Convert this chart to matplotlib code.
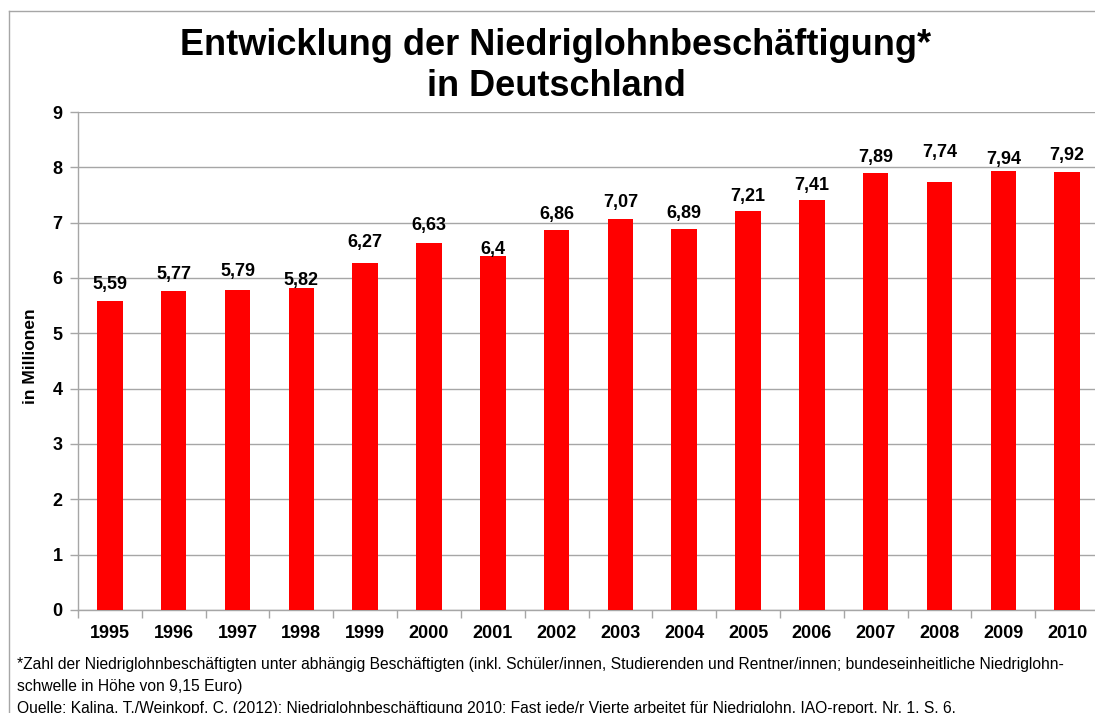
import matplotlib
matplotlib.use("Agg")
import matplotlib.pyplot as plt
from matplotlib.lines import Line2D

years = ["1995", "1996", "1997", "1998", "1999", "2000", "2001", "2002",
         "2003", "2004", "2005", "2006", "2007", "2008", "2009", "2010"]
values = [5.59, 5.77, 5.79, 5.82, 6.27, 6.63, 6.4, 6.86,
          7.07, 6.89, 7.21, 7.41, 7.89, 7.74, 7.94, 7.92]
value_labels = ["5,59", "5,77", "5,79", "5,82", "6,27", "6,63", "6,4", "6,86",
                "7,07", "6,89", "7,21", "7,41", "7,89", "7,74", "7,94", "7,92"]
label_gap_px = [16, 16, 18, 7, 21, 18, 6, 16, 16, 15, 15, 14, 15.5, 29, 11, 16]
yticks = [0, 1, 2, 3, 4, 5, 6, 7, 8, 9]

title = "Entwicklung der Niedriglohnbeschäftigung*\nin Deutschland"
ylabel = "in Millionen"
foot1 = ("*Zahl der Niedriglohnbeschäftigten unter abhängig Beschäftigten (inkl. Schüler/innen, "
         "Studierenden und Rentner/innen; bundeseinheitliche Niedriglohn-")
foot2 = "schwelle in Höhe von 9,15 Euro)"
foot3 = ("Quelle: Kalina, T./Weinkopf, C. (2012): Niedriglohnbeschäftigung 2010: Fast jede/r Vierte "
         "arbeitet für Niedriglohn, IAQ-report, Nr. 1, S. 6.")

plt.rcParams["font.family"] = ["Liberation Sans", "DejaVu Sans"]

W, H = 1095, 713
fig = plt.figure(figsize=(W / 100, H / 100), dpi=100)

# outer frame (top and left edges visible)
frame_kw = dict(transform=fig.transFigure, color="#a6a6a6", linewidth=1.0)
fig.add_artist(Line2D([9 / W, 1.0], [1 - 11 / H, 1 - 11 / H], **frame_kw))
fig.add_artist(Line2D([9 / W, 9 / W], [1 - 11 / H, 0.0], **frame_kw))

ax = fig.add_axes([78 / W, 1 - 610 / H, (1099 - 78) / W, (610 - 112) / H])
x = list(range(len(years)))
ax.bar(x, values, width=0.4, color="#ff0000", zorder=3)
ax.set_xlim(-0.5, len(years) - 0.5)
ax.set_ylim(0, 9)
ax.set_yticks(yticks)
ax.set_yticklabels([str(t) for t in yticks], fontsize=13, fontweight="bold")
ax.yaxis.grid(True, color="#a6a6a6", linewidth=1.0, zorder=0)
ax.set_axisbelow(True)

ax.set_xticks([i - 0.5 for i in range(len(years) + 1)], minor=False)
ax.set_xticklabels([])
ax.set_xticks(x, minor=True)
ax.set_xticklabels(years, minor=True, fontsize=13, fontweight="bold")
ax.tick_params(axis="x", which="major", length=6, color="#a6a6a6", width=1)
ax.tick_params(axis="x", which="minor", length=0, pad=11)
ax.tick_params(axis="y", length=6, color="#a6a6a6", width=1, pad=5)

for s in ["top", "right"]:
    ax.spines[s].set_visible(False)
for s in ["left", "bottom"]:
    ax.spines[s].set_color("#a6a6a6")
    ax.spines[s].set_linewidth(1.0)

for xi, v, lab, gap in zip(x, values, value_labels, label_gap_px):
    ax.annotate(lab, (xi, v), xytext=(0, gap * 0.72), textcoords="offset points",
                ha="center", va="center", fontsize=13, fontweight="bold", zorder=4)

ax.set_ylabel(ylabel, fontsize=12.5, fontweight="bold")
ax.yaxis.set_label_coords(-40 / (1099 - 78), 0.51)

fig.text(556 / W, 1 - 66 / H, title, ha="center", va="center",
         fontsize=26, fontweight="bold", linespacing=1.2)

fkw = dict(fontsize=11.25, va="center", ha="left")
fig.text(17 / W, 1 - 665 / H, foot1, **fkw)
fig.text(17 / W, 1 - 687 / H, foot2, **fkw)
fig.text(17 / W, 1 - 708 / H, foot3, **fkw)

fig.savefig("out.png", dpi=100)
